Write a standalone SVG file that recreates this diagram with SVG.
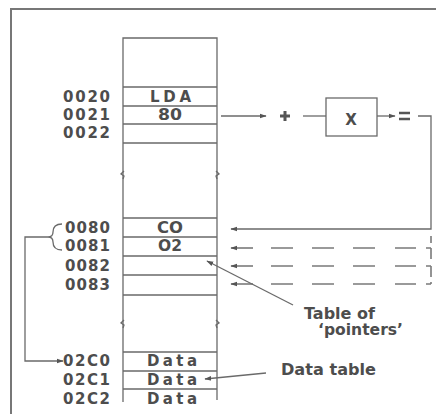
<svg xmlns="http://www.w3.org/2000/svg" width="436" height="414" viewBox="0 0 436 414">
<style>
.ln{stroke:#6a6a6a;stroke-width:1.3;fill:none}
.fr{stroke:#777;stroke-width:2;fill:none}
.t{font-family:"DejaVu Sans","Liberation Sans",Arial,sans-serif;font-weight:bold;font-size:15px;fill:#4d4d4d}
.lb{font-size:15.5px}
.ds{stroke:#7a7a7a;stroke-width:1.6;fill:none}
</style>
<defs>
<marker id="ah" viewBox="0 0 10 10" refX="9" refY="5" markerWidth="7" markerHeight="7" orient="auto-start-reverse" markerUnits="userSpaceOnUse">
<path d="M0,1.5 L10,5 L0,8.5 Z" fill="#555"/>
</marker>
</defs>
<rect width="436" height="414" fill="#fff"/>
<!-- frame -->
<path class="fr" d="M11,414 V9 H436"/>

<!-- memory column -->
<g id="memory">
<path class="ln" d="M123,402 V38 H217 V400"/>
<path class="ln" d="M123,87 H217 M123,106 H217 M123,124 H217 M123,143 H217"/>
<path class="ln" d="M123,218 H217 M123,237 H217 M123,256 H217 M123,275 H217 M123,295 H217"/>
<path class="ln" d="M123,352 H217 M123,371 H217 M123,389 H217"/>
<path class="ln" d="M124,171 l-3,3 l3,2 l-1,3 M216,171 l3,3 l-3,2 l1,3"/>
<path class="ln" d="M124,320 l-3,3 l3,2 l-1,3 M216,320 l3,3 l-3,2 l1,3"/>
</g>

<g id="cells">
<text class="t" x="150" y="102" textLength="41" lengthAdjust="spacing">LDA</text>
<text class="t" x="158" y="120" textLength="24" lengthAdjust="spacingAndGlyphs">80</text>
<text class="t" x="157" y="233" textLength="26" lengthAdjust="spacingAndGlyphs">CO</text>
<text class="t" x="158" y="251" textLength="24" lengthAdjust="spacingAndGlyphs">O2</text>
<text class="t" x="147" y="366" textLength="50" lengthAdjust="spacing">Data</text>
<text class="t" x="147" y="385" textLength="50" lengthAdjust="spacing">Data</text>
<text class="t" x="147" y="404" textLength="50" lengthAdjust="spacing">Data</text>
</g>

<g id="addresses">
<text class="t" x="63" y="102" textLength="47" lengthAdjust="spacing">0020</text>
<text class="t" x="63" y="120" textLength="47" lengthAdjust="spacing">0021</text>
<text class="t" x="63" y="138" textLength="47" lengthAdjust="spacing">0022</text>
<text class="t" x="65" y="233" textLength="45" lengthAdjust="spacing">0080</text>
<text class="t" x="65" y="251" textLength="45" lengthAdjust="spacing">0081</text>
<text class="t" x="65" y="271" textLength="45" lengthAdjust="spacing">0082</text>
<text class="t" x="65" y="290" textLength="45" lengthAdjust="spacing">0083</text>
<text class="t" x="63" y="366" textLength="47" lengthAdjust="spacing">02C0</text>
<text class="t" x="63" y="385" textLength="47" lengthAdjust="spacing">02C1</text>
<text class="t" x="63" y="404" textLength="47" lengthAdjust="spacing">02C2</text>
</g>

<g id="multiply">
<rect x="326" y="98" width="51" height="38" fill="#fff" stroke="#6a6a6a" stroke-width="1.3"/>
<text class="t" x="351" y="125" font-size="20" text-anchor="middle">X</text>
</g>

<g id="plus">
<path d="M280,116 H290 M285,111 V121" stroke="#555" stroke-width="3"/>
</g>

<g id="equals">
<path d="M399,113 H410 M399,119 H410" stroke="#555" stroke-width="2.6"/>
</g>

<g id="labels">
<text class="t lb" x="304" y="319" textLength="71" lengthAdjust="spacingAndGlyphs">Table of</text>
<text class="t lb" x="318" y="335" textLength="85" lengthAdjust="spacingAndGlyphs">‘pointers’</text>
<text class="t lb" x="281" y="375" textLength="95" lengthAdjust="spacingAndGlyphs">Data table</text>
</g>

<g id="connectors">
<!-- address calc path -->
<path class="ln" d="M221,116 H266" marker-end="url(#ah)"/>
<path class="ln" d="M303,116 H326"/>
<path class="ln" d="M377,116 H395" marker-end="url(#ah)"/>
<path class="ln" d="M418,116 H431 V229 H231" marker-end="url(#ah)"/>
<!-- dashed pointer arrows -->
<path class="ds" d="M253,248 H231" marker-end="url(#ah)"/>
<path class="ds" d="M253,266 H231" marker-end="url(#ah)"/>
<path class="ds" d="M253,284 H231" marker-end="url(#ah)"/>
<path class="ds" d="M271,248 H293 M312,248 H334 M353,248 H375 M395,248 H416 M426,248 H431 M271,266 H293 M312,266 H334 M353,266 H375 M395,266 H416 M426,266 H431 M271,284 H293 M312,284 H334 M353,284 H375 M395,284 H416 M426,284 H431"/>
<path class="ds" d="M431,236 V243 M431,248 V259 M431,266 V277 M431,282 V284"/>
<!-- brace and link to data -->
<path class="ln" d="M62,224 C55,224 53,228 53,232 C53,235 51,237 48,237 C51,237 53,239 53,242 C53,246 55,250 62,250"/>
<path class="ln" d="M48,237 H25 V361 H63" marker-end="url(#ah)"/>
<!-- label leaders -->
<path class="ln" d="M293,305 L207,261" marker-end="url(#ah)"/>
<path class="ln" d="M266,373 L205,379" marker-end="url(#ah)"/>
</g>
</svg>
